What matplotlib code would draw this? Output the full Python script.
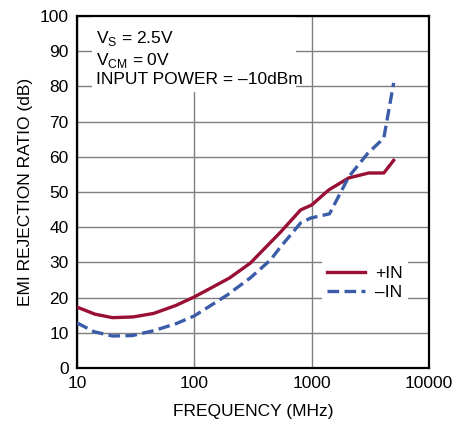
import matplotlib
matplotlib.use('Agg')
import matplotlib.pyplot as plt
from matplotlib.patches import Rectangle

plt.rcParams['font.family'] = ['Liberation Sans', 'DejaVu Sans']
plt.rcParams['mathtext.fontset'] = 'custom'
plt.rcParams['mathtext.rm'] = 'Liberation Sans'

# +IN curve
pos_freq = [10, 14.2, 20, 30, 45, 70, 100, 140, 200, 300, 543, 805, 1000, 1400, 2070, 3070, 4120, 5000]
pos_rej = [17.3, 15.3, 14.3, 14.5, 15.5, 17.8, 20.2, 22.8, 25.6, 29.8, 38.6, 44.9, 46.3, 50.6, 54.0, 55.4, 55.4, 59.0]

# -IN curve
neg_freq = [10, 14, 20, 29.5, 45, 70, 100, 190, 300, 446, 543, 805, 980, 1420, 2070, 3010, 4120, 5000]
neg_rej = [12.8, 10.3, 9.1, 9.2, 10.6, 12.6, 14.8, 20.7, 25.6, 30.7, 34.4, 41.2, 42.6, 43.8, 54.3, 61.0, 65.3, 81.0]

x_ticks = [10, 100, 1000, 10000]
y_ticks = list(range(0, 101, 10))

red = '#9a0f34'
blue = '#3b5ca8'

fig = plt.figure(figsize=(4.57, 4.21), dpi=100)
ax = fig.add_axes([0.1685, 0.1259, 0.7702, 0.8361])
ax.set_xscale('log')
ax.set_xlim(10, 10000)
ax.set_ylim(0, 100)

ax.grid(True, which='major', color='#7f7f7f', lw=1.0)
ax.set_axisbelow(True)
ax.minorticks_off()
ax.set_xticks(x_ticks)
ax.set_xticklabels([str(t) for t in x_ticks])
ax.set_yticks(y_ticks)
ax.tick_params(length=0, labelsize=12.5, pad=6)
for sp in ax.spines.values():
    sp.set_linewidth(1.6)

ax.plot(pos_freq, pos_rej, color=red, lw=2.4, label='+IN', zorder=3)
ax.plot(neg_freq, neg_rej, color=blue, lw=2.4, dashes=(3.5, 1.6), label='\u2013IN', zorder=3)

# white box behind the conditions text
ax.add_patch(Rectangle((0.043, 0.785), 0.58, 0.215, transform=ax.transAxes,
                       facecolor='white', edgecolor='none', zorder=2))
ax.text(0.055, 0.963, 'V$_\\mathregular{S}$ = 2.5V\nV$_\\mathregular{CM}$ = 0V\nINPUT POWER = \u201310dBm',
        transform=ax.transAxes, fontsize=12.5, va='top', ha='left', linespacing=1.2, zorder=4)

leg = ax.legend(loc='upper left', bbox_to_anchor=(0.67, 0.33), frameon=True, fontsize=12.5,
                handlelength=2.2, handletextpad=0.6, labelspacing=0.25, borderpad=0.3)
leg.get_frame().set_edgecolor('none')
leg.get_frame().set_facecolor('white')
leg.get_frame().set_alpha(1)
leg.get_frame().set_boxstyle('square', pad=0)

ax.set_xlabel('FREQUENCY (MHz)', fontsize=12.5, labelpad=9)
ax.set_ylabel('EMI REJECTION RATIO (dB)', fontsize=12.5, labelpad=5)

fig.savefig('out.png', dpi=100)
